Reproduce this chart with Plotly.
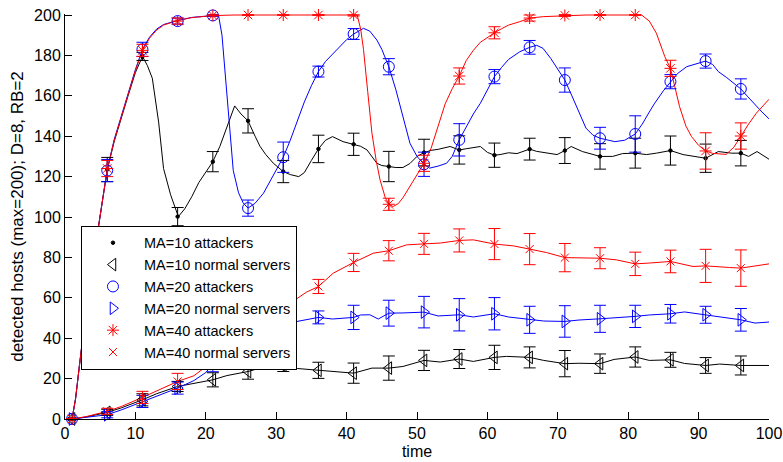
import plotly.graph_objects as go

# ---------------- data ----------------
marker_t = [1, 6, 11, 16, 21, 26, 31, 36, 41, 46, 51, 56, 61, 66, 71, 76, 81, 86, 91, 96]

ma10_att = [0, 123.5, 179.5, 100.2, 127.4, 147.6, 122.5, 133.7, 136, 125, 131.9, 133.2, 130.6, 133.6, 132.9, 130, 131.6, 132.9, 129.1, 131.6]
ma10_att_err = [0, 6, 2, 4.5, 5, 6, 5.5, 6.8, 5.5, 7.5, 6.6, 7, 6, 5.4, 6.4, 6.3, 7.4, 7.2, 7, 6.3]
ma20_att = [0, 123, 183, 197, 199.8, 104.4, 129.6, 172, 190.6, 174.4, 126.1, 138.2, 169.5, 184, 167.8, 139, 141.1, 167, 177.2, 163.4]
ma20_att_err = [0, 5.5, 3.5, 1.5, 0.5, 4, 7.5, 2.7, 2.7, 4, 6, 8, 3.5, 3.4, 6, 5.4, 9, 3.5, 3.5, 5]
ma40_att = [0, 124, 182.5, 197, 199.8, 200, 200, 200, 200, 106.3, 126.6, 169.8, 191.2, 198.5, 199.8, 200, 200, 173.6, 132.7, 140.1]
ma40_att_err = [0, 4, 3, 1.5, 0.3, 0, 0, 0, 0.5, 3, 4, 4, 3, 1.5, 0.5, 0, 0, 4, 9, 6.5]

ma10_norm = [0, 3.3, 9.5, 16.1, 19.4, 23.5, 26.5, 24.1, 22.7, 25.2, 29, 29.7, 30.5, 30.5, 27.4, 27.4, 30.7, 29.3, 26.5, 26.5]
ma10_norm_err = [0, 1.5, 3, 2.5, 3.5, 3.8, 3, 4, 5, 6, 5, 4.7, 6, 5.2, 6.5, 4.8, 5, 3.7, 3.9, 4.7]
ma20_norm = [0, 2.1, 8.7, 15.3, 27.4, 40, 47, 50.3, 50.3, 52.4, 52.9, 51.6, 52.1, 49.1, 48.3, 49.6, 50.8, 52.1, 51.6, 49.1]
ma20_norm_err = [0, 1.5, 3, 3, 4, 4, 4, 3.2, 6, 6.4, 7.8, 8, 8, 6.7, 7.8, 6.7, 5.5, 4.6, 4.2, 5.6]
ma40_norm = [0, 3.8, 10.7, 18.6, 28.5, 43, 55, 65.6, 77.5, 83.3, 86.7, 88.4, 86.6, 84.1, 79.9, 79.6, 76.8, 78, 75.8, 74.7]
ma40_norm_err = [0, 1.5, 3, 4, 3.5, 4, 4, 3.5, 4.5, 5, 5.2, 5.7, 7.7, 7.7, 7, 5.2, 5.8, 5.6, 8.2, 9]

# continuous curves (time, value)
ma10_att_line = [(1, 0), (1.5, 10), (2, 25), (2.5, 40), (3, 54), (4, 78), (5, 100), (6, 123.5), (7, 137.5),
                 (8, 149.5), (9, 160.5), (10, 171.5), (11, 179.5), (11.7, 175), (12.4, 168.7), (13.3, 147),
                 (14, 124), (15, 111), (16.1, 100.2), (17, 104), (18, 110), (19, 117), (20, 122), (21, 127.4),
                 (22, 135), (23, 145), (24.1, 155), (25, 151), (26, 147.6), (27, 140), (27.7, 135), (28.5, 131),
                 (29.6, 126.6), (31, 122.5), (32, 121), (33.2, 120), (34, 122), (35, 128), (36, 133.7), (37, 138),
                 (38, 139.8), (39.5, 137.3), (41, 136), (42, 135), (42.9, 133.2), (44.3, 126.6), (45, 125.5),
                 (46, 125), (47, 124.5), (48, 124.5), (49, 126.5), (50, 130), (51, 131.9), (52, 133), (53, 133.5),
                 (54.7, 134.9), (56, 133.2), (57, 133.8), (58, 134.5), (59, 134.9), (60, 132), (61, 130.6),
                 (61.8, 130.9), (63, 131.8), (64.2, 131.4), (66, 133.6), (67, 132.5), (68.9, 131.6), (69.9, 130.9),
                 (71, 132.9), (71.9, 134.9), (73.5, 132.4), (75, 131), (76, 130), (77.8, 130), (79.2, 131.4),
                 (81, 131.6), (82.6, 130.9), (84, 131.6), (86, 132.9), (87.8, 130.9), (89.7, 130), (91, 129.1),
                 (92.8, 132.4), (94.7, 131.6), (96, 131.6), (97.1, 130), (98.3, 132.4), (100, 128.6)]

ma20_att_line = [(1, 0), (1.5, 10), (2, 25), (2.5, 40), (3, 54), (4, 78), (5, 100), (6, 123.5), (7, 138.5),
                 (8, 150.5), (9, 161.5), (10, 173), (11, 183), (12, 189), (13, 193), (14, 195.3), (16, 197.3),
                 (18, 198.8), (21, 199.8), (21.8, 200), (22.3, 190), (23, 160), (23.5, 138), (23.9, 123),
                 (24.65, 112), (25.3, 107), (26, 104.4), (27, 106.8), (28.2, 111.8), (29, 117), (30, 123),
                 (31, 129.6), (32, 138), (33.4, 151.4), (34, 157), (35, 165), (36, 172), (37, 177), (38.1, 181),
                 (39, 184.5), (40, 187.8), (41, 190.6), (42.4, 193.4), (43.3, 192), (44.3, 187.6), (45, 183),
                 (46, 174.4), (47, 163), (47.6, 154.6), (48.3, 145), (49, 136.5), (50, 130), (51, 126.1),
                 (51.8, 124.2), (53, 125.2), (54.2, 126.6), (55, 130), (56, 138.2), (57, 145), (58, 151),
                 (59, 156.3), (60, 163), (61, 169.5), (62, 174), (63, 178), (64.6, 181.8), (66, 184), (67, 185),
                 (67.9, 183.5), (69, 178.5), (70, 173), (71, 167.8), (72, 160), (73, 152), (74, 144), (75, 140.5),
                 (76, 139), (78.1, 137.3), (79.5, 138), (81, 141.1), (82, 146), (83, 152), (83.7, 156), (85, 162.5),
                 (86, 167), (87, 171), (88.3, 174.4), (89.5, 175.5), (91, 177.2), (92, 175.5), (92.8, 172),
                 (94, 169), (95, 166), (96, 163.4), (97, 159.5), (98, 155.5), (99, 152), (100, 148.6)]

ma40_att_line = [(1, 0), (1.5, 10), (2, 25), (2.5, 40), (3, 54), (4, 78), (5, 100), (6, 123.5), (7, 138),
                 (8, 150), (9, 161), (10, 172.5), (11, 182.5), (12, 188.5), (13, 192.5), (14, 195), (16, 197.3),
                 (18, 198.7), (21, 199.7), (24, 200), (41.5, 200), (42, 193), (42.4, 183), (43, 162),
                 (43.6, 141.5), (44.2, 128), (44.75, 118.4), (45.5, 109.5), (46, 106.3), (46.6, 105.2),
                 (47.3, 106.5), (48, 109.5), (49, 115), (50, 120.5), (51, 126.6), (52, 134), (53, 145), (54, 156),
                 (55, 163.5), (56, 169.8), (57, 177.5), (58, 182.5), (59, 186.5), (60, 189), (61, 191.2),
                 (62, 193.2), (63, 195), (64.6, 196.7), (66, 198.5), (68, 199.2), (71, 199.7), (74, 200),
                 (81.9, 200), (83, 197), (84, 191), (85.2, 179.4), (86, 173.6), (87.3, 154.6), (88.2, 145),
                 (89, 139.8), (90, 135.5), (91, 132.7), (92, 131.5), (93.9, 131), (95, 134.5), (96, 140.1),
                 (97.1, 146), (98.2, 151.4), (99.1, 155), (100, 158.3)]

ma10_norm_line = [(1, 0), (3, 1), (6, 3.3), (8, 5.5), (11, 9.5), (13, 12.5), (16, 16.1), (18, 17.5), (21, 19.4),
                  (23, 21.5), (26, 23.5), (28, 25.5), (31, 26.5), (33, 25), (36, 24.1), (38, 23.8), (39, 23.5),
                  (41, 22.7), (43.6, 25.2), (46, 25.2), (48, 26), (51, 29), (53.3, 28.2), (56, 29.7), (58, 28.5),
                  (61, 30.5), (62.7, 31), (66, 30.5), (68, 29), (71, 27.4), (73, 27.6), (76, 27.4), (78, 29.5),
                  (81, 30.7), (83, 29), (86, 29.3), (88, 27.5), (91, 26.5), (93, 27.2), (96, 26.5), (100, 26.5)]

ma20_norm_line = [(1, 0), (3, 0.8), (6, 2.1), (8, 4.5), (11, 8.7), (13, 11.5), (16, 15.3), (18.3, 19), (20, 23),
                  (21, 27.4), (22, 32), (25, 40), (28, 45), (31, 47), (34.3, 49), (36, 50.3), (38, 49.5),
                  (41, 50.3), (42, 51.5), (43.3, 51.6), (44.5, 49.5), (46, 52.4), (48, 52.5), (51, 52.9), (53, 51),
                  (56, 51.6), (58, 50.5), (61, 52.1), (63, 50.5), (66, 49.1), (68, 48.5), (71, 48.3), (73, 49),
                  (76, 49.6), (78, 50), (81, 50.8), (83, 51.5), (86, 52.1), (88, 53), (91, 51.6), (93, 50.5),
                  (96, 49.1), (98, 47.5), (100, 48)]

ma40_norm_line = [(1, 0), (3, 1.2), (6, 3.8), (8, 6.2), (11, 10.7), (13, 14), (16, 18.6), (18.3, 21.4), (21, 28.5),
                  (23, 35), (26, 43), (29, 51), (31, 55), (34.3, 62.8), (36, 65.6), (38.1, 72.2), (41, 77.5),
                  (43.8, 82.1), (46, 83.3), (48.5, 86.2), (51, 86.7), (53.3, 87.1), (56, 88.4), (58, 88.7),
                  (61, 86.6), (63.7, 85.7), (66, 84.1), (68.4, 82.4), (71, 79.9), (73.5, 79.8), (76, 79.6),
                  (78.3, 78.8), (81, 76.8), (83, 77.2), (86, 78), (89.2, 75.5), (91, 75.8), (94.4, 75), (96, 74.7),
                  (100, 76.8)]

labels = ["MA=10 attackers", "MA=10 normal servers", "MA=20 attackers",
          "MA=20 normal servers", "MA=40 attackers", "MA=40 normal servers"]
x_ticks = [0, 10, 20, 30, 40, 50, 60, 70, 80, 90, 100]
y_ticks = [0, 20, 40, 60, 80, 100, 120, 140, 160, 180, 200]

# ---------------- figure ----------------
FONT = "Liberation Sans, Arial, sans-serif"
series = [
    (labels[0], ma10_att_line, ma10_att, ma10_att_err, "black", dict(symbol="circle", size=3.5)),
    (labels[1], ma10_norm_line, ma10_norm, ma10_norm_err, "black", dict(symbol="triangle-left-open", size=11)),
    (labels[2], ma20_att_line, ma20_att, ma20_att_err, "#0000ff", dict(symbol="circle-open", size=11)),
    (labels[3], ma20_norm_line, ma20_norm, ma20_norm_err, "#0000ff", dict(symbol="triangle-right-open", size=11)),
    (labels[4], ma40_att_line, ma40_att, ma40_att_err, "#ff0000", dict(symbol="asterisk-open", size=10)),
    (labels[5], ma40_norm_line, ma40_norm, ma40_norm_err, "#ff0000", dict(symbol="x-thin-open", size=8)),
]

fig = go.Figure()
for name, line, vals, errs, col, mk in series:
    fig.add_trace(go.Scatter(
        x=[p[0] for p in line], y=[p[1] for p in line], mode="lines",
        line=dict(color=col, width=1), showlegend=False, hoverinfo="skip"))
for name, line, vals, errs, col, mk in series:
    fig.add_trace(go.Scatter(
        x=marker_t, y=vals, mode="markers", name=name,
        marker=dict(color=col, line=dict(color=col, width=1), **mk),
        error_y=dict(type="data", array=errs, visible=True, color=col, thickness=1, width=6),
        cliponaxis=False))

fig.update_layout(
    width=783, height=462,
    margin=dict(l=65, r=13.5, t=14, b=43),
    paper_bgcolor="white", plot_bgcolor="white",
    font=dict(family=FONT, size=15, color="black"),
    showlegend=True,
    legend=dict(x=0.0227, y=0.477, xanchor="left", yanchor="top",
                bgcolor="white", bordercolor="black", borderwidth=1,
                font=dict(family=FONT, size=14.5, color="black"),
                itemwidth=52, tracegroupgap=0),
)
fig.update_xaxes(range=[0, 100], tickvals=x_ticks, ticks="inside", ticklen=7, tickcolor="black",
                 showline=True, linecolor="black", linewidth=1, mirror=False,
                 showgrid=False, zeroline=False, automargin=False, tickfont=dict(size=16),
                 title=dict(text="time", font=dict(size=16), standoff=4))
fig.update_yaxes(range=[0, 200.5], tickvals=y_ticks, ticks="inside", ticklen=7, tickcolor="black",
                 showline=True, linecolor="black", linewidth=1, mirror=False,
                 showgrid=False, zeroline=False, automargin=False, tickfont=dict(size=16),
                 title=dict(text="detected hosts (max=200); D=8, RB=2", font=dict(size=17), standoff=6))

fig.write_html("out.html")
